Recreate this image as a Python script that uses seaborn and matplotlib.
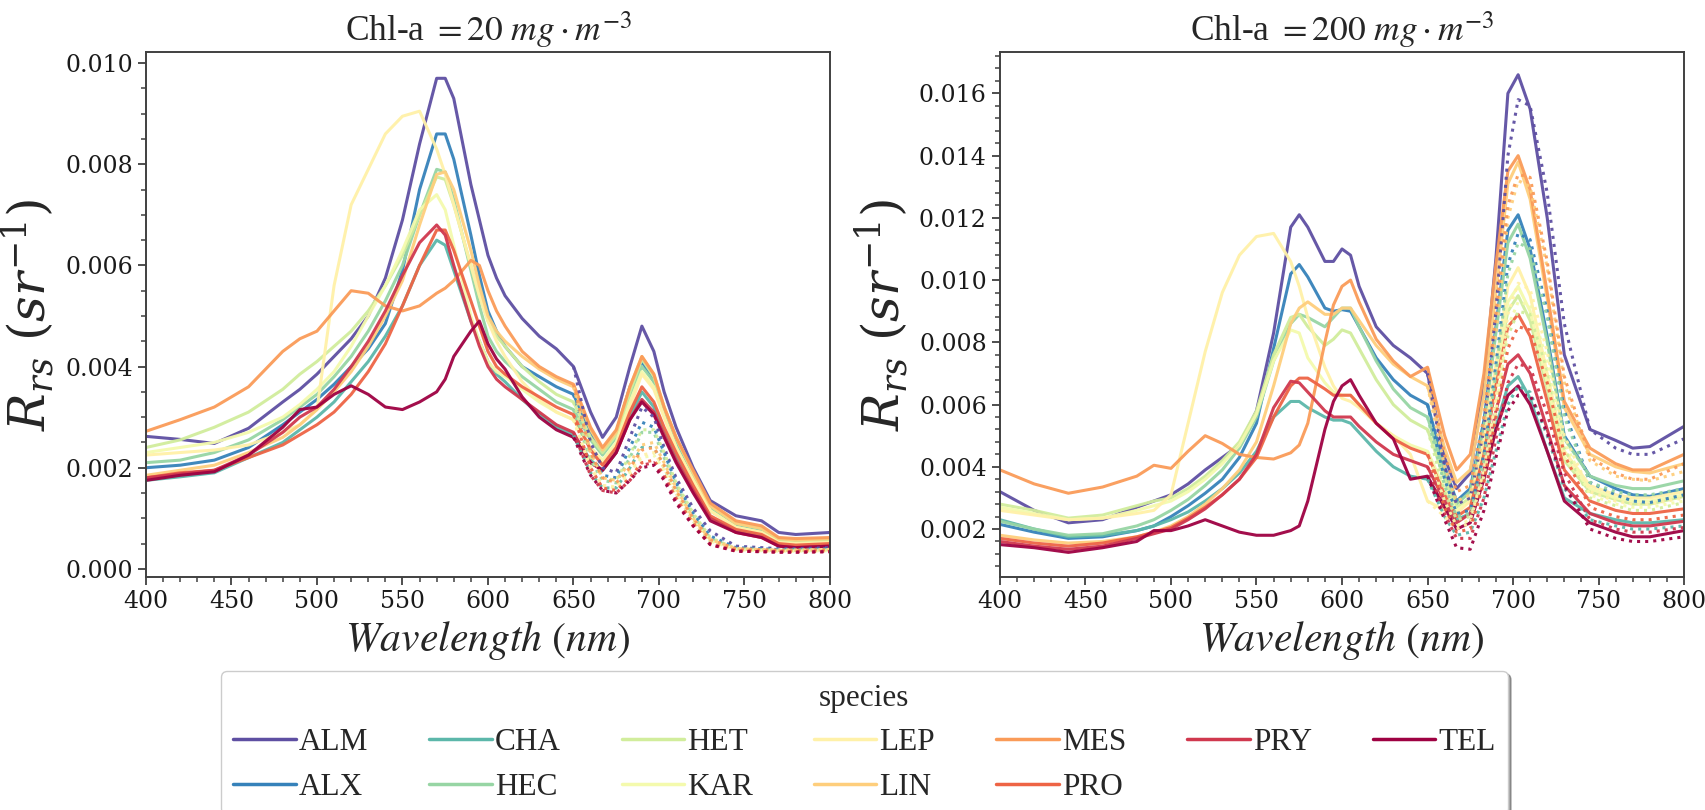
import numpy as np
import pandas as pd
import matplotlib
matplotlib.use("Agg")
import matplotlib.pyplot as plt
from matplotlib.lines import Line2D
from matplotlib.ticker import MultipleLocator, AutoMinorLocator
import seaborn as sns

sns.set_style("ticks")
matplotlib.rcParams['font.family'] = 'serif'
matplotlib.rcParams['font.serif'] = ['DejaVu Serif']
matplotlib.rcParams['mathtext.fontset'] = 'stix'

# %% values, Rrs in units of 1e-3 sr^-1

species = ["ALM", "ALX", "CHA", "HEC", "HET", "KAR", "LEP", "LIN", "MES", "PRO", "PRY", "TEL"]

wavelength = [400, 420, 440, 460, 480, 490, 500, 510, 520, 530, 540, 550, 560, 570,
              575, 580, 590, 595, 600, 605, 610, 620, 630, 640, 650, 660,
              667, 675, 683, 690, 697, 703, 710, 720, 730, 745, 760, 770, 780, 800]

# dotted curves split off the solid ones from 650 nm
tailWavelength = [650, 660, 667, 675, 683, 690, 697, 703, 710, 720, 730, 745, 760, 770, 780, 800]

# Chl-a = 20 mg m-3
solid20 = {
    "ALM": [2.62, 2.56, 2.48, 2.78, 3.3, 3.55, 3.85, 4.2, 4.55, 5.0, 5.75, 6.9, 8.4, 9.7,
            9.7, 9.3, 7.6, 6.9, 6.2, 5.75, 5.4, 4.95, 4.6, 4.35, 4.0, 3.1,
            2.6, 3.0, 4.0, 4.8, 4.3, 3.5, 2.8, 2.0, 1.35, 1.05, 0.95, 0.72, 0.68, 0.72],
    "ALX": [2.0, 2.05, 2.15, 2.4, 2.85, 3.1, 3.35, 3.65, 4.0, 4.35, 4.85, 5.9, 7.5, 8.6,
            8.6, 8.1, 6.6, 5.8, 5.1, 4.7, 4.4, 4.0, 3.8, 3.6, 3.45, 2.7,
            2.3, 2.7, 3.6, 4.1, 3.7, 3.1, 2.5, 1.75, 1.15, 0.85, 0.75, 0.55, 0.52, 0.55],
    "CHA": [1.75, 1.82, 1.9, 2.2, 2.5, 2.75, 3.0, 3.3, 3.7, 4.1, 4.6, 5.2, 6.0, 6.5,
            6.4, 5.9, 4.9, 4.5, 4.1, 3.85, 3.7, 3.35, 3.05, 2.8, 2.65, 2.15,
            1.95, 2.3, 3.0, 3.5, 3.2, 2.7, 2.2, 1.55, 1.0, 0.75, 0.65, 0.48, 0.45, 0.47],
    "HEC": [2.1, 2.15, 2.3, 2.55, 2.95, 3.2, 3.45, 3.8, 4.2, 4.7, 5.3, 6.0, 7.0, 7.9,
            7.85, 7.3, 5.9, 5.2, 4.6, 4.3, 4.1, 3.8, 3.55, 3.3, 3.15, 2.55,
            2.25, 2.6, 3.4, 4.0, 3.7, 3.1, 2.5, 1.8, 1.2, 0.85, 0.75, 0.55, 0.52, 0.55],
    "HET": [2.4, 2.55, 2.8, 3.1, 3.55, 3.85, 4.1, 4.4, 4.7, 5.1, 5.6, 6.2, 7.0, 7.75,
            7.7, 7.2, 6.0, 5.4, 4.9, 4.6, 4.4, 4.0, 3.7, 3.45, 3.3, 2.6,
            2.3, 2.65, 3.5, 4.15, 3.8, 3.2, 2.6, 1.9, 1.25, 0.9, 0.8, 0.58, 0.55, 0.58],
    "KAR": [2.3, 2.4, 2.5, 2.7, 3.0, 3.25, 3.55, 3.9, 4.4, 5.0, 5.6, 6.3, 7.1, 7.4,
            7.1, 6.4, 5.0, 4.5, 4.1, 3.9, 3.8, 3.55, 3.3, 3.1, 2.95, 2.4,
            2.15, 2.5, 3.3, 3.9, 3.6, 3.0, 2.4, 1.75, 1.15, 0.82, 0.72, 0.52, 0.5, 0.52],
    "LEP": [2.25, 2.3, 2.35, 2.45, 2.7, 2.85, 3.15, 5.6, 7.2, 7.9, 8.6, 8.95, 9.05, 8.3,
            7.8, 7.2, 6.0, 5.4, 4.9, 4.5, 4.2, 3.7, 3.35, 3.1, 2.95, 2.4,
            2.1, 2.45, 3.2, 3.85, 3.55, 3.0, 2.4, 1.75, 1.15, 0.82, 0.72, 0.52, 0.5, 0.52],
    "LIN": [1.85, 1.95, 2.05, 2.3, 2.6, 2.85, 3.15, 3.5, 3.9, 4.4, 5.0, 5.7, 6.8, 7.8,
            7.85, 7.5, 6.3, 5.6, 5.0, 4.7, 4.5, 4.2, 3.95, 3.75, 3.6, 2.75,
            2.35, 2.7, 3.6, 4.2, 3.85, 3.2, 2.6, 1.9, 1.25, 0.9, 0.8, 0.6, 0.57, 0.6],
    "MES": [2.72, 2.95, 3.2, 3.6, 4.3, 4.55, 4.7, 5.1, 5.5, 5.45, 5.2, 5.1, 5.2, 5.45,
            5.55, 5.7, 6.1, 6.0, 5.5, 5.1, 4.8, 4.3, 4.0, 3.8, 3.65, 2.8,
            2.4, 2.75, 3.6, 4.2, 3.85, 3.2, 2.6, 1.95, 1.3, 0.95, 0.85, 0.62, 0.6, 0.62],
    "PRO": [1.8, 1.9, 1.95, 2.2, 2.45, 2.65, 2.85, 3.1, 3.45, 3.9, 4.45, 5.2, 6.0, 6.7,
            6.7, 6.3, 5.3, 4.8, 4.3, 4.0, 3.85, 3.6, 3.4, 3.2, 3.05, 2.35,
            2.05, 2.4, 3.1, 3.6, 3.3, 2.8, 2.3, 1.65, 1.05, 0.78, 0.68, 0.5, 0.47, 0.5],
    "PRY": [1.8, 1.88, 1.95, 2.25, 2.7, 3.0, 3.2, 3.55, 4.0, 4.5, 5.1, 5.8, 6.45, 6.8,
            6.6, 6.0, 4.9, 4.4, 4.0, 3.75, 3.6, 3.35, 3.1, 2.85, 2.7, 2.1,
            1.95, 2.3, 2.95, 3.35, 3.1, 2.65, 2.15, 1.55, 1.0, 0.72, 0.62, 0.45, 0.42, 0.45],
    "TEL": [1.75, 1.85, 1.92, 2.25, 2.8, 3.15, 3.2, 3.45, 3.62, 3.45, 3.2, 3.15, 3.3, 3.5,
            3.75, 4.2, 4.7, 4.9, 4.45, 4.15, 3.95, 3.4, 3.0, 2.75, 2.6, 2.1,
            1.95, 2.3, 2.95, 3.3, 3.05, 2.6, 2.1, 1.5, 0.95, 0.72, 0.62, 0.45, 0.42, 0.45],
}

dotted20 = {
    "ALM": [4.0, 2.5, 2.0, 1.9, 2.6, 3.2, 3.0, 2.4, 1.8, 1.2, 0.75, 0.45, 0.42, 0.4, 0.4, 0.42],
    "ALX": [3.45, 2.3, 1.85, 1.8, 2.4, 2.9, 2.8, 2.3, 1.7, 1.1, 0.65, 0.42, 0.4, 0.38, 0.38, 0.4],
    "CHA": [2.65, 1.9, 1.6, 1.6, 2.0, 2.4, 2.4, 2.0, 1.5, 0.95, 0.55, 0.38, 0.36, 0.35, 0.35, 0.36],
    "HEC": [3.15, 2.15, 1.75, 1.7, 2.2, 2.7, 2.7, 2.2, 1.65, 1.05, 0.6, 0.4, 0.38, 0.37, 0.37, 0.38],
    "HET": [3.3, 2.2, 1.8, 1.75, 2.25, 2.75, 2.75, 2.3, 1.7, 1.1, 0.62, 0.4, 0.38, 0.37, 0.37, 0.38],
    "KAR": [2.95, 2.0, 1.65, 1.6, 1.9, 2.2, 2.25, 1.95, 1.5, 0.95, 0.55, 0.38, 0.36, 0.35, 0.35, 0.36],
    "LEP": [2.95, 2.0, 1.65, 1.62, 1.95, 2.25, 2.3, 2.0, 1.5, 0.95, 0.55, 0.38, 0.36, 0.35, 0.35, 0.36],
    "LIN": [3.6, 2.3, 1.8, 1.75, 2.1, 2.45, 2.5, 2.1, 1.6, 1.0, 0.58, 0.4, 0.38, 0.37, 0.37, 0.38],
    "MES": [3.65, 2.3, 1.8, 1.7, 2.0, 2.35, 2.4, 2.05, 1.55, 1.0, 0.58, 0.4, 0.38, 0.37, 0.37, 0.38],
    "PRO": [3.05, 2.0, 1.6, 1.55, 1.8, 2.1, 2.15, 1.85, 1.4, 0.9, 0.5, 0.36, 0.35, 0.34, 0.34, 0.35],
    "PRY": [2.7, 1.85, 1.55, 1.5, 1.75, 2.05, 2.1, 1.8, 1.35, 0.85, 0.48, 0.35, 0.34, 0.33, 0.33, 0.34],
    "TEL": [2.6, 1.85, 1.55, 1.5, 1.75, 2.0, 2.05, 1.75, 1.3, 0.85, 0.48, 0.35, 0.34, 0.33, 0.33, 0.34],
}

# Chl-a = 200 mg m-3
solid200 = {
    "ALM": [3.2, 2.6, 2.2, 2.3, 2.7, 2.9, 3.1, 3.45, 3.9, 4.3, 4.7, 5.8, 8.3, 11.7,
            12.1, 11.7, 10.6, 10.6, 11.0, 10.8, 9.8, 8.5, 7.9, 7.5, 7.0, 4.3,
            3.3, 3.8, 6.6, 10.7, 16.0, 16.6, 15.5, 12.0, 7.6, 5.2, 4.85, 4.6, 4.65, 5.3],
    "ALX": [2.15, 1.9, 1.7, 1.75, 1.95, 2.1, 2.4, 2.75, 3.15, 3.6, 4.3, 5.4, 7.8, 10.2,
            10.5, 10.1, 9.1, 9.0, 9.05, 9.0, 8.5, 7.5, 6.8, 6.3, 6.0, 4.0,
            2.9, 3.3, 5.5, 8.5, 11.6, 12.1, 11.0, 8.2, 5.0, 3.7, 3.3, 3.1, 3.05, 3.3],
    "CHA": [2.3, 2.0, 1.75, 1.8, 1.95, 2.1, 2.3, 2.55, 2.9, 3.3, 3.8, 4.5, 5.6, 6.1,
            6.1, 5.9, 5.6, 5.5, 5.5, 5.4, 5.1, 4.5, 4.0, 3.7, 3.6, 2.7,
            2.3, 2.5, 3.8, 5.3, 6.6, 6.9, 6.2, 4.5, 3.0, 2.5, 2.3, 2.2, 2.2, 2.3],
    "HEC": [2.25, 2.0, 1.8, 1.85, 2.1, 2.3, 2.6, 2.95, 3.4, 3.9, 4.6, 5.6, 7.4, 8.6,
            8.9, 8.8, 8.5, 8.8, 9.1, 9.1, 8.5, 7.4, 6.5, 5.9, 5.6, 3.8,
            2.8, 3.2, 5.3, 8.3, 11.2, 11.8, 10.7, 8.0, 4.9, 3.7, 3.4, 3.3, 3.3, 3.55],
    "HET": [2.8, 2.6, 2.35, 2.45, 2.75, 2.9, 3.0, 3.3, 3.7, 4.2, 4.8, 5.8, 7.6, 8.8,
            8.9, 8.5, 7.9, 8.1, 8.4, 8.3, 7.8, 6.8, 6.0, 5.5, 5.2, 3.6,
            2.7, 3.0, 4.7, 7.0, 9.0, 9.5, 8.7, 6.5, 4.2, 3.2, 2.95, 2.8, 2.8, 3.05],
    "KAR": [2.7, 2.5, 2.3, 2.35, 2.6, 2.75, 2.9, 3.2, 3.6, 4.1, 4.7, 5.7, 7.4, 8.4,
            8.3, 7.5, 6.7, 6.4, 6.3, 6.3, 6.0, 5.4, 5.0, 4.7, 4.5, 3.3,
            2.6, 2.9, 4.5, 6.8, 9.3, 9.8, 9.0, 6.7, 4.3, 3.3, 3.0, 2.9, 2.9, 3.1],
    "LEP": [2.6, 2.45, 2.3, 2.35, 2.5, 2.6, 3.1, 5.4, 7.7, 9.6, 10.8, 11.4, 11.5, 10.6,
            9.8, 8.8, 7.2, 6.6, 6.2, 6.1, 5.9, 5.4, 5.0, 4.4, 2.9, 2.6,
            2.5, 2.9, 4.8, 7.3, 9.8, 10.4, 9.5, 7.0, 4.5, 3.4, 3.1, 3.0, 3.0, 3.2],
    "LIN": [1.8, 1.65, 1.55, 1.6, 1.75, 1.9, 2.1, 2.4, 2.8, 3.3, 3.9, 4.8, 6.6, 8.6,
            9.1, 9.3, 8.9, 8.9, 9.1, 9.1, 8.7, 7.9, 7.3, 6.9, 6.6, 4.6,
            3.5, 3.9, 6.3, 9.6, 13.1, 13.8, 12.6, 9.4, 5.9, 4.4, 4.0, 3.85, 3.8, 4.1],
    "MES": [3.9, 3.45, 3.15, 3.35, 3.7, 4.05, 3.95, 4.5, 5.0, 4.75, 4.4, 4.3, 4.25, 4.45,
            4.7, 5.4, 8.0, 9.2, 9.8, 10.0, 9.3, 8.1, 7.4, 6.9, 7.2, 5.0,
            3.9, 4.4, 7.0, 10.5, 13.5, 14.0, 12.9, 9.6, 6.1, 4.6, 4.1, 3.9, 3.9, 4.4],
    "PRO": [1.7, 1.55, 1.45, 1.55, 1.75, 1.9, 2.05, 2.35, 2.7, 3.1, 3.6, 4.3, 5.6, 6.6,
            6.85, 6.85, 6.5, 6.3, 6.3, 6.3, 6.0, 5.4, 4.9, 4.6, 4.4, 3.1,
            2.4, 2.7, 4.4, 6.6, 8.5, 8.9, 8.2, 6.1, 3.9, 2.9, 2.6, 2.5, 2.5, 2.65],
    "PRY": [1.6, 1.45, 1.35, 1.45, 1.7, 1.85, 2.0, 2.3, 2.65, 3.1, 3.6, 4.4, 5.9, 6.75,
            6.7, 6.4, 5.8, 5.6, 5.6, 5.6, 5.3, 4.8, 4.4, 4.2, 4.0, 2.9,
            2.2, 2.5, 3.9, 5.8, 7.3, 7.6, 7.0, 5.2, 3.4, 2.5, 2.2, 2.1, 2.1, 2.25],
    "TEL": [1.5, 1.4, 1.25, 1.4, 1.6, 1.95, 1.95, 2.1, 2.3, 2.1, 1.9, 1.8, 1.8, 1.95,
            2.1, 2.9, 5.2, 6.1, 6.6, 6.8, 6.3, 5.4, 4.9, 3.6, 3.7, 2.7,
            2.0, 2.2, 3.6, 5.2, 6.3, 6.6, 6.0, 4.5, 2.9, 2.2, 1.9, 1.75, 1.75, 1.95],
}

dotted200 = {
    "ALM": [7.0, 4.0, 2.8, 3.0, 5.2, 9.0, 14.0, 15.8, 15.6, 12.8, 8.6, 5.2, 4.6, 4.4, 4.4, 4.9],
    "ALX": [6.0, 3.6, 2.5, 2.6, 4.4, 7.3, 10.5, 11.5, 11.3, 9.0, 5.8, 3.5, 3.1, 2.9, 2.85, 3.1],
    "CHA": [3.6, 2.4, 1.8, 1.9, 3.0, 4.5, 6.0, 6.6, 6.4, 5.0, 3.3, 2.3, 2.1, 2.0, 2.0, 2.1],
    "HEC": [5.6, 3.4, 2.4, 2.5, 4.2, 7.0, 10.2, 11.2, 11.0, 8.8, 5.6, 3.5, 3.2, 3.1, 3.1, 3.3],
    "HET": [5.2, 3.2, 2.3, 2.4, 3.8, 6.0, 8.2, 9.0, 8.9, 7.1, 4.6, 3.0, 2.75, 2.6, 2.6, 2.85],
    "KAR": [4.5, 2.9, 2.1, 2.3, 3.7, 5.8, 8.5, 9.3, 9.2, 7.4, 4.8, 3.1, 2.8, 2.7, 2.7, 2.9],
    "LEP": [2.9, 2.4, 2.0, 2.2, 3.9, 6.2, 8.9, 9.9, 9.7, 7.7, 5.0, 3.2, 2.9, 2.8, 2.8, 3.0],
    "LIN": [6.6, 4.0, 2.9, 3.1, 5.1, 8.2, 12.0, 13.2, 13.0, 10.4, 6.7, 4.2, 3.7, 3.6, 3.55, 3.85],
    "MES": [7.2, 4.4, 3.2, 3.4, 5.6, 8.9, 12.4, 13.4, 13.3, 10.6, 6.9, 4.3, 3.8, 3.6, 3.6, 4.1],
    "PRO": [4.4, 2.7, 1.9, 2.0, 3.5, 5.6, 7.8, 8.5, 8.4, 6.7, 4.4, 2.7, 2.4, 2.3, 2.3, 2.45],
    "PRY": [4.0, 2.5, 1.7, 1.7, 3.0, 4.9, 6.7, 7.3, 7.2, 5.7, 3.8, 2.3, 2.0, 1.9, 1.9, 2.05],
    "TEL": [3.7, 2.3, 1.4, 1.35, 2.6, 4.3, 5.8, 6.3, 6.3, 5.1, 3.4, 2.0, 1.7, 1.6, 1.6, 1.75],
}

chlLevels = [20, 200]

# %%

def toLong(curves, wl):
    frames = []
    for sp in species:
        vals = curves[sp]
        assert len(vals) == len(wl), sp
        frames.append(pd.DataFrame({"wavelength": wl,
                                    "rrs": np.array(vals) * 1e-3,
                                    "species": sp}))
    return pd.concat(frames, ignore_index=True)


palette = sns.color_palette(plt.cm.Spectral_r(np.linspace(0, 1, len(species))))

fig, ax = plt.subplots(
    ncols=2,
    figsize=(17.05, 8.10),
    gridspec_kw={"wspace": 0.2485}
)
fig.subplots_adjust(left=0.0856, right=0.9877, bottom=0.2877, top=0.9358)

panels = [(solid20, dotted20), (solid200, dotted200)]
ylims = [(-0.00016, 0.01022), (0.00046, 0.01733)]
minorDivs = [4, 5]

for idx, (solid, dotted) in enumerate(panels):
    a = ax[idx]
    sns.lineplot(data=toLong(solid, wavelength), x="wavelength", y="rrs",
                 hue="species", hue_order=species, palette=palette,
                 estimator=None, lw=2.2, alpha=0.95, legend=False, ax=a)
    sns.lineplot(data=toLong(dotted, tailWavelength), x="wavelength", y="rrs",
                 hue="species", hue_order=species, palette=palette,
                 estimator=None, lw=2.2, linestyle=":", alpha=0.95, legend=False, ax=a)

    a.set_xlim(400, 800)
    a.set_ylim(*ylims[idx])
    a.xaxis.set_major_locator(MultipleLocator(50))
    a.xaxis.set_minor_locator(AutoMinorLocator(5))
    a.yaxis.set_major_locator(MultipleLocator(0.002))
    a.yaxis.set_minor_locator(AutoMinorLocator(minorDivs[idx]))

    a.set_title(r"Chl-a $=%d\ mg\cdot m^{-3}$" % chlLevels[idx],
                fontsize=25.5, family="Liberation Serif", pad=8)
    a.set_xlabel(r"$Wavelength\ (nm)$", fontsize=30, labelpad=4)
    a.set_ylabel(r"$R_{rs}\ (sr^{-1})$", fontsize=36, math_fontfamily="dejavuserif", labelpad=6)

    for s in a.spines.values():
        s.set_color("0.25")
        s.set_linewidth(1.4)
    a.tick_params(which="major", length=6, width=1.3, color="0.25", labelsize=17, labelcolor="0.1")
    a.tick_params(which="minor", length=3.5, width=1.1, color="0.25")

handles = [Line2D([], [], color=c, lw=2.5) for c in palette]
fig.legend(handles, species, loc="upper center", bbox_to_anchor=(0.507, 0.1716),
           ncol=7, title="species",
           prop={"family": "Liberation Serif", "size": 22.5},
           title_fontproperties={"family": "Liberation Serif", "size": 22.5},
           handlelength=2.0, handletextpad=0.1, columnspacing=1.95,
           shadow=True, fancybox=True, borderaxespad=0)

plt.savefig("out.png", dpi=100)
